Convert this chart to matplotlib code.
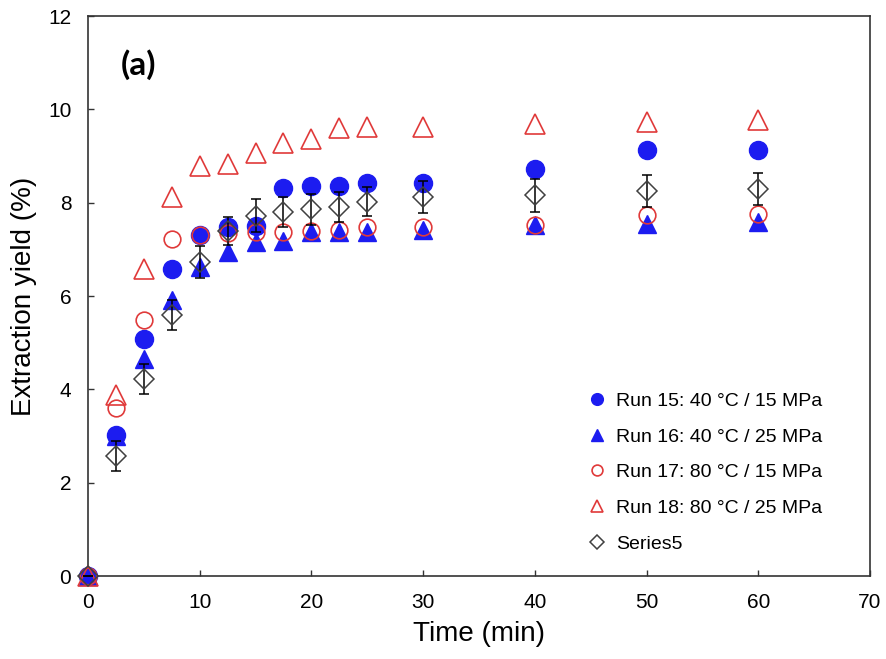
import matplotlib
matplotlib.use('Agg')
import matplotlib.pyplot as plt

FIGURE_BGCOLOR = 'white'
BLUE = '#1c1cf0'
RED = '#e03a3a'
DIAMOND_COLOUR = '#404040'
SPINE_COLOUR = '#333333'

plt.rcParams['font.family'] = ['Liberation Sans', 'DejaVu Sans']

# extraction time (min)
time_min = [0, 2.5, 5, 7.5, 10, 12.5, 15, 17.5, 20, 22.5, 25, 30, 40, 50, 60]

# extraction yield (%) per run
run15 = [0, 3.02, 5.07, 6.58, 7.30, 7.48, 7.50, 8.31, 8.36, 8.36, 8.42, 8.43, 8.72, 9.13, 9.13]
run16 = [0, 3.00, 4.65, 5.92, 6.62, 6.94, 7.15, 7.17, 7.37, 7.37, 7.37, 7.42, 7.52, 7.54, 7.58]
run17 = [0, 3.60, 5.49, 7.22, 7.31, 7.36, 7.38, 7.38, 7.40, 7.42, 7.48, 7.48, 7.52, 7.73, 7.75]
run18 = [0, 3.88, 6.58, 8.12, 8.78, 8.83, 9.06, 9.28, 9.36, 9.60, 9.63, 9.62, 9.68, 9.72, 9.77]
series5 = [0, 2.57, 4.22, 5.59, 6.73, 7.39, 7.72, 7.80, 7.86, 7.91, 8.02, 8.12, 8.16, 8.25, 8.29]
series5_err = [0, 0.33, 0.33, 0.32, 0.34, 0.30, 0.35, 0.33, 0.33, 0.32, 0.31, 0.34, 0.35, 0.35, 0.35]

labels = ['Run 15: 40 °C / 15 MPa',
          'Run 16: 40 °C / 25 MPa',
          'Run 17: 80 °C / 15 MPa',
          'Run 18: 80 °C / 25 MPa',
          'Series5']

x_ticks = [0, 10, 20, 30, 40, 50, 60, 70]
y_ticks = [0, 2, 4, 6, 8, 10, 12]

fig = plt.figure(figsize=(8.87, 6.59), dpi=100)
fig.set_facecolor(FIGURE_BGCOLOR)
ax = fig.add_axes([0.0992, 0.1259, 0.8816, 0.8498])

h15, = ax.plot(time_min, run15, 'o', color=BLUE, markersize=13,
               label=labels[0], clip_on=False, zorder=3)
h16, = ax.plot(time_min, run16, '^', color=BLUE, markersize=13,
               label=labels[1], clip_on=False, zorder=3)
h17, = ax.plot(time_min, run17, 'o', markerfacecolor='none', markeredgecolor=RED,
               markeredgewidth=1.2, markersize=12, label=labels[2],
               clip_on=False, zorder=4)
h18, = ax.plot(time_min, run18, '^', markerfacecolor='none', markeredgecolor=RED,
               markeredgewidth=1.2, markersize=14, label=labels[3],
               clip_on=False, zorder=4)
eb = ax.errorbar(time_min, series5, yerr=series5_err, fmt='D',
                 markerfacecolor='none', markeredgecolor=DIAMOND_COLOUR,
                 markeredgewidth=1.1, markersize=10.5, ecolor='black',
                 elinewidth=1.1, capsize=3.5, capthick=1.1,
                 label=labels[4], clip_on=False, zorder=5)

ax.set_xlim(0, 70)
ax.set_ylim(0, 12)
ax.set_xticks(x_ticks)
ax.set_yticks(y_ticks)
ax.tick_params(axis='both', direction='in', length=4, width=1,
               labelsize=15, colors=SPINE_COLOUR, labelcolor='black')
ax.tick_params(axis='x', pad=12)
ax.tick_params(axis='y', pad=12)
ax.tick_params(top=False, right=False)
for spine in ax.spines.values():
    spine.set_color(SPINE_COLOUR)
    spine.set_linewidth(1.2)

ax.set_xlabel('Time (min)', fontsize=20, labelpad=7)
ax.set_ylabel('Extraction yield (%)', fontsize=20, labelpad=8)

ax.text(0.064, 0.914, '(a)', transform=ax.transAxes, fontsize=24,
        fontweight='bold', family=['Lato', 'DejaVu Sans'],
        ha='center', va='center')

# legend shows only the diamond for Series5, no error bar
ax.legend([h15, h16, h17, h18, eb[0]], labels,
          loc='upper left', bbox_to_anchor=(0.631, 0.342), frameon=False,
          fontsize=14, markerscale=0.65, handlelength=0.8,
          handletextpad=0.6, labelspacing=0.93, borderaxespad=0)

plt.savefig('out.png', dpi=100, facecolor=FIGURE_BGCOLOR)
